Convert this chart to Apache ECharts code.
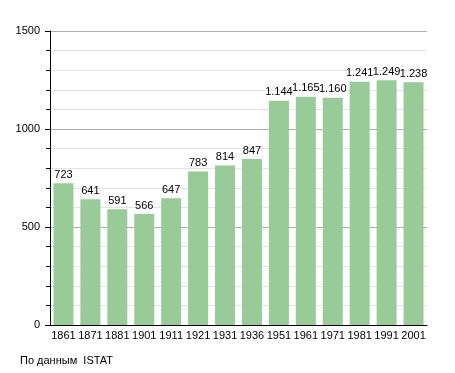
<!DOCTYPE html>
<html><head><meta charset="utf-8">
<script src="https://cdn.jsdelivr.net/npm/echarts@6/dist/echarts.min.js"></script>
<style>html,body{margin:0;padding:0;background:#fff}#c{width:455px;height:373px}</style>
</head><body><div id="c"></div>
<script>
const years = ['1861','1871','1881','1901','1911','1921','1931','1936','1951','1961','1971','1981','1991','2001'];
const population = [723,641,591,566,647,783,814,847,1144,1165,1160,1241,1249,1238];
const yTicks = [0,500,1000,1500];
const sourceText = 'По данным  ISTAT';

function fmt(v){ return v >= 1000 ? Math.floor(v/1000) + '.' + String(v%1000).padStart(3,'0') : String(v); }

const chart = echarts.init(document.getElementById('c'), null, {renderer:'canvas'});
chart.setOption({
  animation:false,
  backgroundColor:'#ffffff',
  textStyle:{fontFamily:'Liberation Sans, Arial, sans-serif'},
  grid:{left:50, right:28, top:31, bottom:48},
  xAxis:{
    type:'category', data:years,
    axisLine:{show:true, lineStyle:{color:'#000', width:1}},
    axisTick:{show:false},
    axisLabel:{color:'#000', fontSize:11, margin:5, interval:0}
  },
  yAxis:{
    type:'value', min:yTicks[0], max:yTicks[yTicks.length-1], interval:500,
    axisLine:{show:true, lineStyle:{color:'#000', width:1}},
    axisTick:{show:true, length:5, lineStyle:{color:'#000'}},
    minorTick:{show:true, splitNumber:5, length:4, lineStyle:{color:'#000'}},
    axisLabel:{color:'#000', fontSize:11, margin:10, formatter:v=>String(v)},
    splitLine:{show:true, lineStyle:{color:'#b0b0b0', width:1}},
    minorSplitLine:{show:true, lineStyle:{color:'#e4e4e4', width:1}}
  },
  series:[{
    type:'bar', data:population, barWidth:20,
    itemStyle:{color:'#98cb98'},
    label:{show:true, position:'top', distance:3, color:'#000', fontSize:11, formatter:p=>fmt(p.value)}
  }],
  graphic:[{type:'text', left:20, top:355, style:{text:sourceText, fill:'#000', font:'11px Liberation Sans, Arial, sans-serif'}}]
});
</script></body></html>
